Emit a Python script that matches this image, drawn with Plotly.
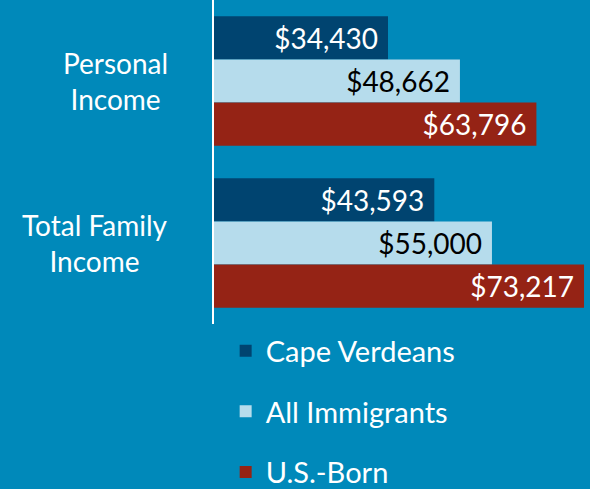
import plotly.graph_objects as go

# 数据
categories = ["Personal Income", "Total Family Income"]
category_labels = ["Personal<br>Income", "Total Family<br>Income"]
series_names = ["Cape Verdeans", "All Immigrants", "U.S.-Born"]
cape_verdeans = [34430, 43593]
all_immigrants = [48662, 55000]
us_born = [63796, 73217]

BG = "#0089BA"
colors = ["#004470", "#B6DCEC", "#952315"]
text_colors = ["white", "black", "white"]
FONT = "Lato, 'Open Sans', sans-serif"

fig = go.Figure()

for name, vals, color, tcolor in zip(series_names,
                                     [cape_verdeans, all_immigrants, us_born],
                                     colors, text_colors):
    fig.add_trace(go.Bar(
        y=categories,
        x=vals,
        name=name,
        orientation="h",
        marker=dict(color=color, line=dict(width=0)),
        text=[f"${v:,.0f}\u2005" for v in vals],
        textposition="inside",
        insidetextanchor="end",
        textfont=dict(color=tcolor, size=28, family=FONT),
        legendgroup=name,
    ))

# 类别标签（居中多行）
for cat, label in zip(categories, category_labels):
    fig.add_annotation(
        x=-0.117, xref="paper", xanchor="right",
        y=cat, yref="y", yanchor="middle",
        text=label, align="center", showarrow=False,
        font=dict(size=28, color="white", family=FONT),
    )

fig.update_layout(
    width=590,
    height=489,
    paper_bgcolor=BG,
    plot_bgcolor=BG,
    barmode="group",
    bargap=0.2,
    bargroupgap=0,
    margin=dict(l=214, r=0, t=0, b=165, autoexpand=False),
    font=dict(family=FONT, color="white", size=28),
    showlegend=True,
    legend=dict(
        orientation="v",
        x=0.031, xanchor="left",
        y=-0.004, yanchor="top",
        font=dict(size=29, color="white", family=FONT),
        tracegroupgap=20,
        bgcolor="rgba(0,0,0,0)",
    ),
    xaxis=dict(range=[0, 74400], visible=False, fixedrange=True),
    yaxis=dict(
        autorange="reversed",
        showline=True, linecolor="white", linewidth=2,
        ticks="", showgrid=False, showticklabels=False,
    ),
)

fig.write_html("out.html", config={"displayModeBar": False},
               post_script="document.body.style.margin='0';")
